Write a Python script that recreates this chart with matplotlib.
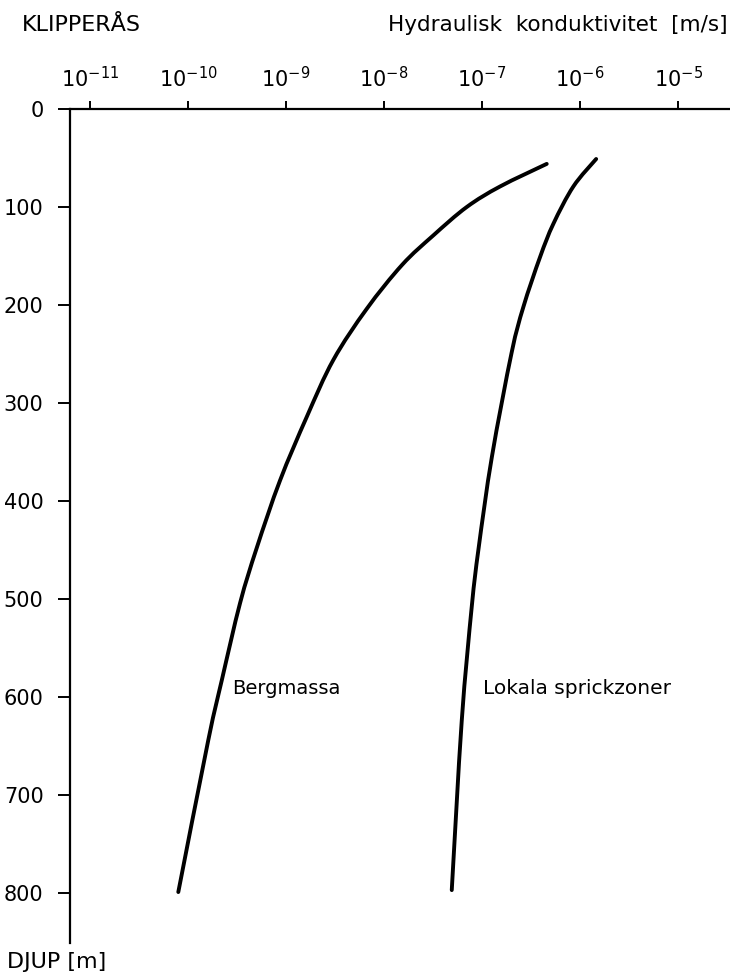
import matplotlib
matplotlib.use("Agg")
import numpy as np
import matplotlib.pyplot as plt
from matplotlib.path import Path
from matplotlib.patches import PathPatch
from matplotlib.ticker import FixedLocator, LogFormatterMathtext, NullLocator

plt.rcParams["font.family"] = ["DejaVu Sans"]
plt.rcParams["mathtext.default"] = "regular"

# Hydraulic conductivity versus depth, Klipperås
berg_depth = [56, 79, 100, 129, 159, 204, 256, 314, 379, 448, 504, 583, 644, 799]
berg_k = [4.57e-7, 1.53e-7, 6.98e-8, 3.18e-8, 1.53e-8, 6.65e-9, 3.04e-9,
          1.63e-9, 8.69e-10, 5.02e-10, 3.40e-10, 2.21e-10, 1.61e-10, 7.96e-11]

zone_depth = [51, 79, 117, 151, 202, 249, 355, 448, 508, 624, 797]
zone_k = [1.46e-6, 8.55e-7, 5.35e-7, 3.91e-7, 2.64e-7, 2.0e-7, 1.26e-7,
          9.23e-8, 7.85e-8, 6.21e-8, 4.91e-8]

x_ticks = [1e-11, 1e-10, 1e-9, 1e-8, 1e-7, 1e-6, 1e-5]
y_ticks = [0, 100, 200, 300, 400, 500, 600, 700, 800]


def smooth_curve(k, depth):
    """Catmull-Rom curve through the points, built in (log10 K, depth) space
    and returned as a cubic Bezier path in data coordinates."""
    p = np.column_stack([np.log10(k), depth])
    p = np.vstack([p[0], p, p[-1]])
    verts = [p[1]]
    codes = [Path.MOVETO]
    for i in range(1, len(p) - 2):
        c1 = p[i] + (p[i + 1] - p[i - 1]) / 6.0
        c2 = p[i + 1] - (p[i + 2] - p[i]) / 6.0
        verts += [c1, c2, p[i + 1]]
        codes += [Path.CURVE4] * 3
    verts = np.array(verts)
    verts[:, 0] = 10 ** verts[:, 0]
    return Path(verts, codes)


fig = plt.figure(figsize=(7.30, 9.76), dpi=100)
ax = fig.add_axes([0.0959, 0.0338, 0.9041, 0.8545])
ax.set_xscale("log")
ax.set_xlim(10 ** -11.204, 10 ** -4.47)
ax.set_ylim(851, 0)

for k, d in ((berg_k, berg_depth), (zone_k, zone_depth)):
    ax.add_patch(PathPatch(smooth_curve(k, d), facecolor="none",
                           edgecolor="black", lw=2.8, capstyle="round",
                           joinstyle="round"))

ax.xaxis.set_major_locator(FixedLocator(x_ticks))
ax.xaxis.set_major_formatter(LogFormatterMathtext())
ax.xaxis.set_minor_locator(NullLocator())
ax.set_yticks(y_ticks)

ax.xaxis.tick_top()
ax.tick_params(axis="x", which="major", direction="out", length=6, width=1.4,
               pad=7, labelsize=15)
ax.tick_params(axis="y", which="major", direction="out", length=9, width=1.4,
               pad=10, labelsize=15)

for side in ("right", "bottom"):
    ax.spines[side].set_visible(False)
for side in ("left", "top"):
    ax.spines[side].set_linewidth(1.6)

ax.text(2.81e-10, 591, "Bergmassa", fontsize=14, va="center", ha="left")
ax.text(1.02e-7, 591, "Lokala sprickzoner", fontsize=14.5, va="center", ha="left")

fig.text(0.030, 0.974, "KLIPPERÅS", fontsize=16, va="center", ha="left")
fig.text(0.997, 0.974, "Hydraulisk  konduktivitet  [m/s]", fontsize=15.5,
         va="center", ha="right")
fig.text(0.01, 1 - 962 / 976, "DJUP [m]", fontsize=16, va="center", ha="left")

fig.savefig("out.png", dpi=100)
